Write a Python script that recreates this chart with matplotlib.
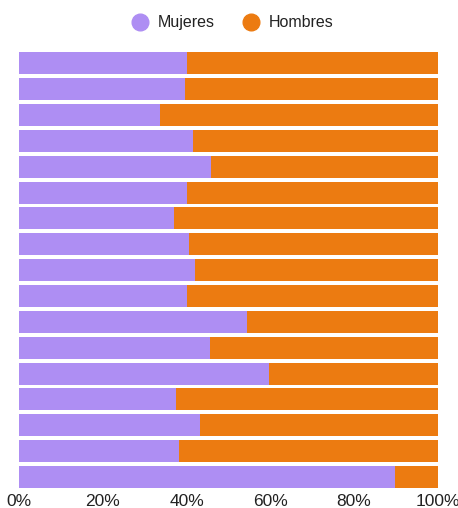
import matplotlib
matplotlib.use('Agg')
import matplotlib.pyplot as plt
import numpy as np
from matplotlib.lines import Line2D

plt.rcParams['font.family'] = ['Liberation Sans', 'DejaVu Sans']

mujeres = [40.1, 39.6, 33.6, 41.5, 45.8, 40.1, 37.0, 40.6, 42.0, 40.2,
           54.4, 45.5, 59.7, 37.4, 43.1, 38.3, 89.7]
hombres = [100 - m for m in mujeres]
labels = ['Mujeres', 'Hombres']
colors = ['#ae8ef3', '#ec7b11']
xticks = [0, 20, 40, 60, 80, 100]

fig = plt.figure(figsize=(4.58, 5.08), dpi=100)
ax = fig.add_axes([0.0415, 0.0356, 0.9145, 0.8654])

y = np.arange(len(mujeres))
ax.barh(y, mujeres, height=0.85, color=colors[0], edgecolor='none')
ax.barh(y, hombres, left=mujeres, height=0.85, color=colors[1], edgecolor='none')

ax.set_xlim(0, 100)
ax.set_ylim(len(mujeres) - 0.5, -0.5)
ax.set_yticks([])
ax.set_xticks(xticks)
ax.set_xticklabels([f'{t}%' for t in xticks], fontsize=12.5, color='#222222')
ax.tick_params(axis='x', length=0, pad=3)
for s in ax.spines.values():
    s.set_visible(False)

handles = [Line2D([], [], marker='o', linestyle='none', markersize=12,
                  markerfacecolor=c, markeredgecolor=c) for c in colors]
fig.legend(handles, labels, loc='center', bbox_to_anchor=(0.5, 0.955), ncol=2,
           frameon=False, fontsize=11.5, handletextpad=0.1, columnspacing=1.3,
           labelcolor='#222222')

fig.savefig('out.png', dpi=100)
